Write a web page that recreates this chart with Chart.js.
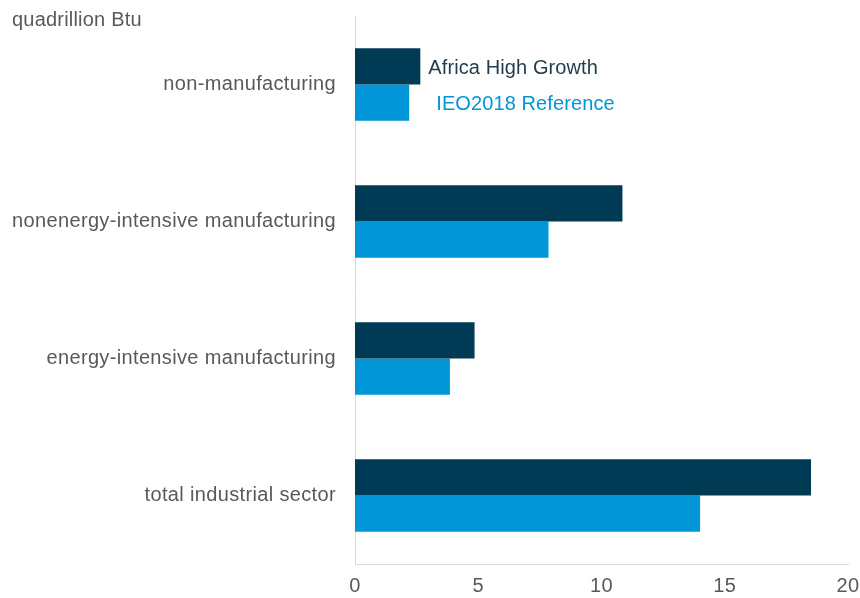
<!DOCTYPE html>
<html lang="en">
<head>
<meta charset="UTF-8">
<title>Industrial sector energy consumption</title>
<script src="https://cdn.jsdelivr.net/npm/chart.js"></script>
<style>
  html, body { margin: 0; padding: 0; background: #fff; }
  #wrap { position: relative; width: 860px; height: 598px; }
  #unit { position: absolute; left: 12px; top: 8px; font: 20px "Liberation Sans", Arial, sans-serif; color: #595959; letter-spacing: 0.2px; }
</style>
</head>
<body>
<div id="wrap">
  <canvas id="chart" width="860" height="598"></canvas>
  <div id="unit">quadrillion Btu</div>
</div>
<script>
const sectors = ['non-manufacturing', 'nonenergy-intensive manufacturing', 'energy-intensive manufacturing', 'total industrial sector'];
const africaHighGrowth = [2.65, 10.85, 4.85, 18.5];
const ieo2018Reference = [2.2, 7.85, 3.85, 14.0];
const xTicks = [0, 5, 10, 15, 20];

const darkBlue = '#003a54';
const lightBlue = '#0096d7';
const grey = '#595959';
const font = "'Liberation Sans', Arial, sans-serif";

// slightly looser text, set after layout so the fixed axis sizes stay put
const spacing = {
  id: 'spacing',
  beforeDraw(chart) { chart.ctx.letterSpacing = '0.35px'; }
};

// series names written beside the first pair of bars instead of a legend box
const inlineLabels = {
  id: 'inlineLabels',
  afterDatasetsDraw(chart) {
    const ctx = chart.ctx;
    const offsets = [8, 27];
    ctx.save();
    ctx.font = '20px ' + font;
    ctx.letterSpacing = '0.1px';
    ctx.textBaseline = 'middle';
    chart.data.datasets.forEach((ds, i) => {
      const bar = chart.getDatasetMeta(i).data[0];
      ctx.fillStyle = i === 0 ? '#1f3b4d' : lightBlue;
      ctx.fillText(ds.label, bar.x + offsets[i], bar.y + 2);
    });
    ctx.restore();
  }
};

new Chart(document.getElementById('chart'), {
  type: 'bar',
  data: {
    labels: sectors,
    datasets: [
      { label: 'Africa High Growth', data: africaHighGrowth, backgroundColor: darkBlue },
      { label: 'IEO2018 Reference', data: ieo2018Reference, backgroundColor: lightBlue }
    ]
  },
  options: {
    indexAxis: 'y',
    responsive: false,
    animation: false,
    categoryPercentage: 0.53,
    barPercentage: 1,
    layout: { padding: { top: 16, right: 12, left: 0, bottom: 0 } },
    plugins: { legend: { display: false }, tooltip: { enabled: false } },
    scales: {
      x: {
        min: 0, max: 20,
        afterBuildTicks(scale) { scale.ticks = xTicks.map(v => ({ value: v })); },
        afterFit(scale) {
          scale.height = 34;
          scale.paddingLeft = 0;
          scale.paddingRight = 0;
        },
        grid: { display: false, drawTicks: false },
        border: { color: '#d9d9d9' },
        ticks: { color: grey, font: { family: font, size: 20 }, padding: 10 }
      },
      y: {
        afterFit(scale) {
          scale.width = 355;
          scale.paddingTop = 0;
          scale.paddingBottom = 0;
        },
        grid: { display: false, drawTicks: false },
        border: { color: '#d9d9d9' },
        ticks: { color: grey, font: { family: font, size: 20 }, padding: 19 }
      }
    }
  },
  plugins: [spacing, inlineLabels]
});
</script>
</body>
</html>
